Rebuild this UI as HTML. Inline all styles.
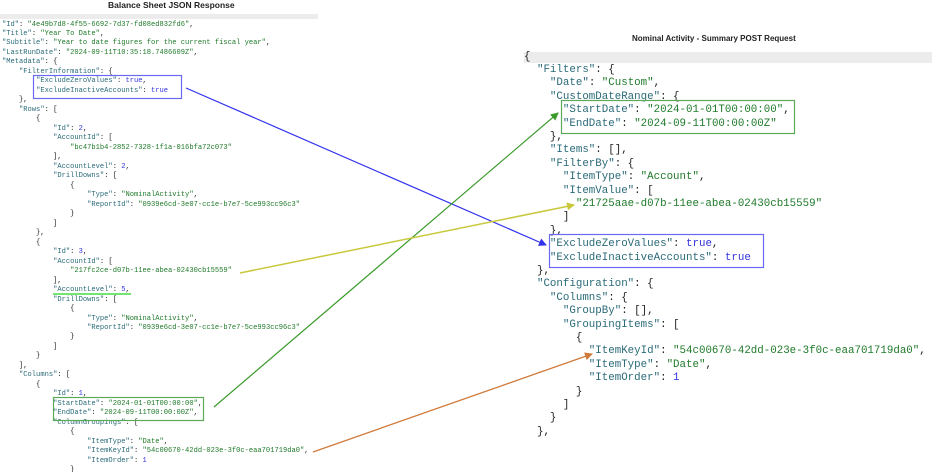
<!DOCTYPE html>
<html><head><meta charset="utf-8"><style>
html,body{margin:0;padding:0;background:#fff;width:932px;height:472px;overflow:hidden;position:relative}
.t{position:absolute;font-family:"Liberation Sans",sans-serif;font-weight:bold;color:#222;white-space:nowrap}
pre{position:absolute;margin:0;font-family:"Liberation Mono",monospace;color:#222}
.k{color:#2a6a78}.s{color:#1f7a2a}.n{color:#3333dd}
#L{left:2px;top:20.5px;font-size:7.1px;line-height:9.49px}
#R{left:524px;top:50.5px;font-size:10.8px;line-height:13.4px}
.bar{position:absolute;background:#ececec}
</style></head><body>
<div class="t" style="left:108px;top:0px;font-size:8.5px">Balance Sheet JSON Response</div>
<div class="bar" style="left:0;top:14px;width:318px;height:5px"></div>
<div class="t" style="left:632px;top:34px;font-size:8px">Nominal Activity - Summary POST Request</div>
<div class="bar" style="left:524px;top:52px;width:408px;height:11px"></div>
<pre id="L"><span class="k">"Id"</span>: <span class="s">"4e49b7d8-4f55-6692-7d37-fd08ed832fd6"</span>,
<span class="k">"Title"</span>: <span class="s">"Year To Date"</span>,
<span class="k">"Subtitle"</span>: <span class="s">"Year to date figures for the current fiscal year"</span>,
<span class="k">"LastRunDate"</span>: <span class="s">"2024-09-11T10:35:18.7486609Z"</span>,
<span class="k">"Metadata"</span>: {
    <span class="k">"FilterInformation"</span>: {
        <span class="k">"ExcludeZeroValues"</span>: <span class="n">true</span>,
        <span class="k">"ExcludeInactiveAccounts"</span>: <span class="n">true</span>
    },
    <span class="k">"Rows"</span>: [
        {
            <span class="k">"Id"</span>: <span class="n">2</span>,
            <span class="k">"AccountId"</span>: [
                <span class="s">"bc47b1b4-2852-7328-1f1a-016bfa72c073"</span>
            ],
            <span class="k">"AccountLevel"</span>: <span class="n">2</span>,
            <span class="k">"DrillDowns"</span>: [
                {
                    <span class="k">"Type"</span>: <span class="s">"NominalActivity"</span>,
                    <span class="k">"ReportId"</span>: <span class="s">"0939e6cd-3e07-cc1e-b7e7-5ce993cc96c3"</span>
                }
            ]
        },
        {
            <span class="k">"Id"</span>: <span class="n">3</span>,
            <span class="k">"AccountId"</span>: [
                <span class="s">"217fc2ce-d07b-11ee-abea-02430cb15559"</span>
            ],
            <span class="k">"AccountLevel"</span>: <span class="n">5</span>,
            <span class="k">"DrillDowns"</span>: [
                {
                    <span class="k">"Type"</span>: <span class="s">"NominalActivity"</span>,
                    <span class="k">"ReportId"</span>: <span class="s">"0939e6cd-3e07-cc1e-b7e7-5ce993cc96c3"</span>
                }
            ]
        }
    ],
    <span class="k">"Columns"</span>: [
        {
            <span class="k">"Id"</span>: <span class="n">1</span>,
            <span class="k">"StartDate"</span>: <span class="s">"2024-01-01T00:00:00"</span>,
            <span class="k">"EndDate"</span>: <span class="s">"2024-09-11T00:00:00Z"</span>,
            <span class="k">"ColumnGroupings"</span>: [
                {
                    <span class="k">"ItemType"</span>: <span class="s">"Date"</span>,
                    <span class="k">"ItemKeyId"</span>: <span class="s">"54c00670-42dd-023e-3f0c-eaa701719da0"</span>,
                    <span class="k">"ItemOrder"</span>: <span class="n">1</span>
                }</pre>
<pre id="R">{
  <span class="k">"Filters"</span>: {
    <span class="k">"Date"</span>: <span class="s">"Custom"</span>,
    <span class="k">"CustomDateRange"</span>: {
      <span class="k">"StartDate"</span>: <span class="s">"2024-01-01T00:00:00"</span>,
      <span class="k">"EndDate"</span>: <span class="s">"2024-09-11T00:00:00Z"</span>
    },
    <span class="k">"Items"</span>: [],
    <span class="k">"FilterBy"</span>: {
      <span class="k">"ItemType"</span>: <span class="s">"Account"</span>,
      <span class="k">"ItemValue"</span>: [
        <span class="s">"21725aae-d07b-11ee-abea-02430cb15559"</span>
      ]
    },
    <span class="k">"ExcludeZeroValues"</span>: <span class="n">true</span>,
    <span class="k">"ExcludeInactiveAccounts"</span>: <span class="n">true</span>
  },
  <span class="k">"Configuration"</span>: {
    <span class="k">"Columns"</span>: {
      <span class="k">"GroupBy"</span>: [],
      <span class="k">"GroupingItems"</span>: [
        {
          <span class="k">"ItemKeyId"</span>: <span class="s">"54c00670-42dd-023e-3f0c-eaa701719da0"</span>,
          <span class="k">"ItemType"</span>: <span class="s">"Date"</span>,
          <span class="k">"ItemOrder"</span>: <span class="n">1</span>
        }
      ]
    }
  },</pre>
<svg width="932" height="472" style="position:absolute;left:0;top:0">
<defs>
<marker id="mb" markerWidth="8" markerHeight="8" refX="7" refY="4" orient="auto" markerUnits="userSpaceOnUse"><path d="M0,0 L8,4 L0,8 z" fill="#3333ee"/></marker>
<marker id="mg" markerWidth="8" markerHeight="8" refX="7" refY="4" orient="auto" markerUnits="userSpaceOnUse"><path d="M0,0 L8,4 L0,8 z" fill="#3a9a2a"/></marker>
<marker id="my" markerWidth="8" markerHeight="8" refX="7" refY="4" orient="auto" markerUnits="userSpaceOnUse"><path d="M0,0 L8,4 L0,8 z" fill="#c8c83a"/></marker>
<marker id="mo" markerWidth="8" markerHeight="8" refX="7" refY="4" orient="auto" markerUnits="userSpaceOnUse"><path d="M0,0 L8,4 L0,8 z" fill="#d07a3a"/></marker>
</defs>
<rect x="33.5" y="75.5" width="148" height="23" fill="none" stroke="#6a6af0" stroke-width="1.2"/>
<line x1="53" y1="294" x2="131" y2="294" stroke="#44dd44" stroke-width="1.5"/>
<rect x="53.5" y="397.5" width="150" height="23" fill="none" stroke="#5aaa5a" stroke-width="1.2"/>
<rect x="561.5" y="100.5" width="233" height="33" fill="none" stroke="#5aaa5a" stroke-width="1.2"/>
<rect x="549.5" y="234.5" width="214" height="33" fill="none" stroke="#6a6af0" stroke-width="1.2"/>
<line x1="186" y1="88" x2="546" y2="245" stroke="#3333ee" stroke-width="1.2" marker-end="url(#mb)"/>
<line x1="214" y1="407" x2="558" y2="113" stroke="#3a9a2a" stroke-width="1.2" marker-end="url(#mg)"/>
<line x1="240" y1="273" x2="574" y2="205" stroke="#c8c83a" stroke-width="1.5" marker-end="url(#my)"/>
<line x1="313" y1="452" x2="592" y2="354" stroke="#d07a3a" stroke-width="1.3" marker-end="url(#mo)"/>
</svg>
</body></html>
